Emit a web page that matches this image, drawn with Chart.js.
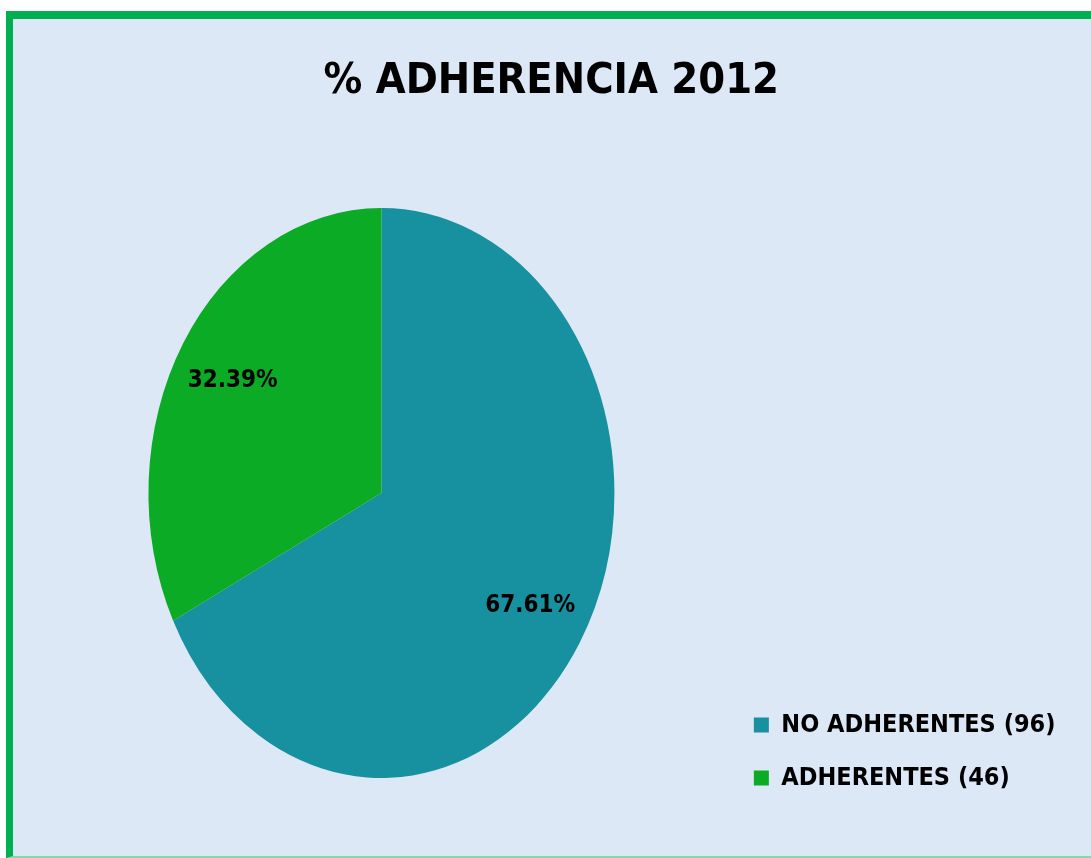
<!DOCTYPE html>
<html>
<head>
<meta charset="utf-8">
<script src="https://cdn.jsdelivr.net/npm/chart.js@4"></script>
<style>
  body { margin: 0; background: #ffffff; }
  #frame {
    position: absolute; left: 6px; top: 11px; width: 1085px; height: 847px;
    box-sizing: border-box;
    background: #dce8f6;
    border-top: 8px solid #00b050;
    border-left: 7px solid #00b050;
    border-bottom: 2px solid #7fdca8;
  }
  #chart { position: absolute; left: 0; top: 0; }
</style>
</head>
<body>
<div id="frame"></div>
<canvas id="chart" width="1091" height="858"></canvas>
<script>
// DATA
const categories = ['NO ADHERENTES', 'ADHERENTES'];
const counts = [96, 46];
const sliceColors = ['#17909f', '#0bab25'];
const chartTitle = '% ADHERENCIA 2012';

const FONT = "'Liberation Sans Narrow', 'DejaVu Sans Condensed', sans-serif";
const STRETCH_Y = 1.223; // pie is drawn taller than wide

// stretch the pie vertically and put the percent labels on it
const ellipsePie = {
    id: 'ellipsePie',
    beforeDatasetsDraw(chart) {
        const arc = chart.getDatasetMeta(0).data[0];
        const ctx = chart.ctx;
        ctx.save();
        ctx.translate(arc.x, arc.y);
        ctx.scale(1, STRETCH_Y);
        ctx.translate(-arc.x, -arc.y);
    },
    afterDatasetsDraw(chart) {
        const ctx = chart.ctx;
        ctx.restore();
        const total = counts.reduce((a, b) => a + b, 0);
        ctx.save();
        ctx.font = 'bold 24px ' + FONT;
        ctx.fillStyle = '#000000';
        ctx.textAlign = 'center';
        ctx.textBaseline = 'middle';
        chart.getDatasetMeta(0).data.forEach((arc, i) => {
            const mid = (arc.startAngle + arc.endAngle) / 2;
            const r = arc.outerRadius * 0.75;
            const x = arc.x + Math.cos(mid) * r;
            const y = arc.y + Math.sin(mid) * r * STRETCH_Y;
            ctx.fillText((counts[i] / total * 100).toFixed(2) + '%', x, y);
        });
        ctx.restore();
    }
};

window.onload = function () {

    new Chart(document.getElementById('chart'), {
        type: 'pie',
        data: {
            labels: categories.map((c, i) => c + ' (' + counts[i] + ')'),
            datasets: [{
                data: counts,
                backgroundColor: sliceColors,
                borderWidth: 0,
                radius: 233
            }]
        },
        options: {
            responsive: false,
            animation: false,
            layout: { padding: { top: 0, left: 37, right: 25.5, bottom: 39.5 } },
            plugins: {
                title: {
                    display: true,
                    text: chartTitle,
                    color: '#000000',
                    font: { family: FONT, size: 43, weight: 'bold' },
                    padding: { top: 56, bottom: 59.9 }
                },
                legend: {
                    position: 'right',
                    align: 'end',
                    labels: {
                        color: '#000000',
                        font: { family: FONT, size: 25, weight: 'bold' },
                        boxWidth: 15,
                        boxHeight: 15,
                        padding: 28
                    }
                },
                tooltip: { enabled: false }
            }
        },
        plugins: [ellipsePie]
    });

};
</script>
</body>
</html>
